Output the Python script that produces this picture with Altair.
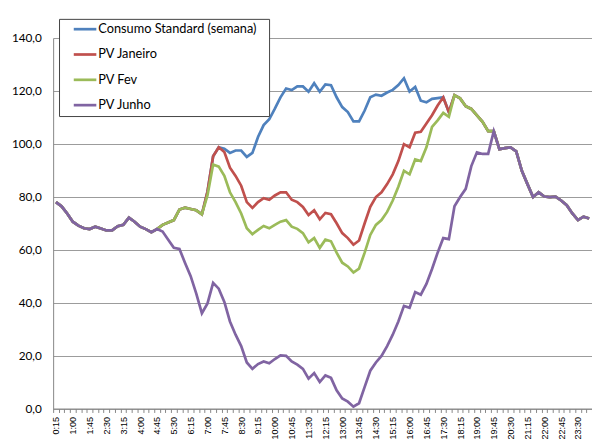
import altair as alt
import pandas as pd

# categories: quarter-hour time slots 0:15 .. 24:00
times = [f"{m // 60}:{m % 60:02d}" for m in range(15, 1441, 15)]

series_names = ["Consumo Standard (semana)", "PV Janeiro", "PV Fev", "PV Junho"]
series_colors = ["#4F81BD", "#C0504D", "#9BBB59", "#8064A2"]

consumo = [78.0, 76.4, 73.7, 70.6, 69.1, 68.1, 67.8, 68.7, 68.0, 67.3, 67.3, 68.9, 69.4, 72.1, 70.6, 68.7, 67.8, 66.6,
           67.8, 69.4, 70.3, 71.2, 75.2, 75.9, 75.4, 74.9, 73.4, 82.0, 95.3, 98.7, 98.2, 96.6, 97.5, 97.5, 95.1, 96.6,
           102.6, 107.1, 109.3, 113.3, 117.6, 120.9, 120.3, 121.7, 121.7, 119.7, 122.9, 119.7, 122.5, 122.2, 117.6, 113.9,
           112.0, 108.5, 108.5, 112.6, 117.6, 118.6, 118.2, 119.4, 120.4, 122.2, 124.8, 119.8, 121.5, 116.3, 115.7, 117.0,
           117.3, 117.6, 112.0, 118.4, 117.2, 114.2, 113.2, 110.8, 108.3, 104.8, 104.8, 98.0, 98.4, 98.7, 97.2, 89.8,
           84.8, 79.9, 81.7, 80.1, 79.9, 80.1, 78.6, 76.8, 73.7, 71.2, 72.5, 71.8]

pv_janeiro = [78.0, 76.4, 73.7, 70.6, 69.1, 68.1, 67.8, 68.7, 68.0, 67.3, 67.3, 68.9, 69.4, 72.1, 70.6, 68.7, 67.8, 66.6,
              67.8, 69.4, 70.3, 71.2, 75.2, 75.9, 75.4, 74.9, 73.4, 82.0, 95.3, 98.7, 96.9, 91.0, 87.9, 84.2, 78.0, 75.8,
              78.0, 79.5, 78.9, 80.5, 81.7, 81.7, 78.9, 78.0, 76.2, 73.1, 74.9, 71.5, 73.9, 73.4, 70.0, 66.3,
              64.4, 61.9, 63.5, 70.0, 76.2, 79.9, 81.7, 84.8, 88.5, 93.5, 99.9, 98.7, 104.2, 104.6, 107.7, 110.8,
              114.5, 117.6, 112.0, 118.4, 117.2, 114.2, 113.2, 110.8, 108.3, 104.8, 104.8, 98.0, 98.4, 98.7, 97.2, 89.8,
              84.8, 79.9, 81.7, 80.1, 79.9, 80.1, 78.6, 76.8, 73.7, 71.2, 72.5, 71.8]

pv_fev = [78.0, 76.4, 73.7, 70.6, 69.1, 68.1, 67.8, 68.7, 68.0, 67.3, 67.3, 68.9, 69.4, 72.1, 70.6, 68.7, 67.8, 66.6,
          67.8, 69.4, 70.3, 71.2, 75.2, 75.9, 75.4, 74.9, 73.4, 80.6, 92.2, 91.4, 87.9, 81.7, 78.0, 73.7, 68.1, 65.9,
          67.5, 69.0, 68.1, 69.4, 70.6, 71.2, 68.7, 67.9, 66.3, 62.8, 64.4, 60.7, 63.8, 63.2, 58.9, 55.1,
          53.7, 51.4, 52.9, 58.9, 65.6, 69.4, 71.2, 74.3, 78.6, 83.8, 89.8, 88.5, 94.1, 93.5, 98.7, 106.4,
          108.9, 111.7, 110.2, 118.4, 117.2, 114.2, 113.2, 110.8, 108.3, 104.8, 104.8, 98.0, 98.4, 98.7, 97.2, 89.8,
          84.8, 79.9, 81.7, 80.1, 79.9, 80.1, 78.6, 76.8, 73.7, 71.2, 72.5, 71.8]

pv_junho = [78.0, 76.4, 73.7, 70.6, 69.1, 68.1, 67.8, 68.7, 68.0, 67.3, 67.3, 68.9, 69.4, 72.1, 70.6, 68.7, 67.8, 66.6,
            67.8, 66.9, 63.8, 60.7, 60.3, 55.0, 50.0, 43.4, 36.0, 39.7, 47.5, 45.3, 40.3, 32.9, 27.9, 23.6, 17.4, 15.0,
            16.8, 17.8, 17.1, 18.7, 20.1, 19.9, 17.8, 16.6, 15.0, 11.3, 13.4, 10.0, 12.5, 11.6, 6.9, 3.8,
            2.6, 0.7, 2.0, 8.2, 14.3, 17.4, 19.9, 23.6, 27.9, 32.9, 38.8, 38.1, 44.0, 43.0, 47.1, 52.7,
            58.9, 64.4, 64.0, 76.4, 79.9, 83.0, 91.6, 96.8, 96.2, 96.2, 104.8, 98.0, 98.4, 98.7, 97.2, 89.8,
            84.8, 79.9, 81.7, 80.1, 79.9, 80.1, 78.6, 76.8, 73.7, 71.2, 72.5, 71.8]

y_ticks = [0, 20, 40, 60, 80, 100, 120, 140]

rows = []
for name, vals in zip(series_names, [consumo, pv_janeiro, pv_fev, pv_junho]):
    for t, v in zip(times, vals):
        rows.append({"time": t, "value": v, "series": name})
df = pd.DataFrame(rows)

x_label_expr = ("(toNumber(split(datum.value, ':')[0]) * 60 + toNumber(split(datum.value, ':')[1]) - 15) % 45 == 0"
                " ? datum.value : ''")

x_enc = alt.X(
    "time:O",
    sort=times,
    bandPosition=0.5,
    scale=alt.Scale(type="band", paddingInner=0, paddingOuter=0),
    axis=alt.Axis(
        title=None, tickBand="extent", labelAngle=270, labelExpr=x_label_expr, labelOverlap=False,
        tickSize=4, labelPadding=4, labelFont="Liberation Sans", labelFontSize=9.2, labelColor="#000000",
        domainColor="#868686", tickColor="#868686", grid=False,
    ),
)
y_enc = alt.Y(
    "value:Q",
    scale=alt.Scale(domain=[0, 140], nice=False),
    axis=alt.Axis(
        title=None, values=y_ticks, labelExpr="replace(format(datum.value, '.1f'), '.', ',')",
        grid=True, gridColor="#9a9a9a", domainColor="#868686", ticks=False, labelPadding=12,
        labelFont="Lato", labelFontSize=12, labelColor="#000000",
    ),
)
color_enc = alt.Color(
    "series:N",
    scale=alt.Scale(domain=series_names, range=series_colors),
    legend=alt.Legend(
        orient="none", legendX=6, legendY=-19.5, title=None,
        symbolType="M-5.75,0H5.75M89,0", symbolSize=16, symbolOffset=16, symbolStrokeWidth=2.75,
        labelFont="Lato", labelFontSize=13, labelColor="#000000", labelLimit=300, padding=4,
        rowPadding=11.8, labelOffset=7, fillColor="white", strokeColor="#404040", direction="vertical",
    ),
)

layers = []
for name in series_names:
    layers.append(
        alt.Chart(df)
        .transform_filter(alt.datum.series == name)
        .mark_line(strokeWidth=2.75)
        .encode(x=x_enc, y=y_enc, color=color_enc)
    )

chart = (
    alt.layer(*layers)
    .properties(
        width=549, height=377.5,
        autosize=alt.AutoSizeParams(type="none"),
        padding={"left": 46, "top": 26.5, "right": 0, "bottom": 29},
        background="white",
    )
    .configure_view(stroke=None)
)

chart.save("out.html", embed_options={"renderer": "svg", "actions": False})
